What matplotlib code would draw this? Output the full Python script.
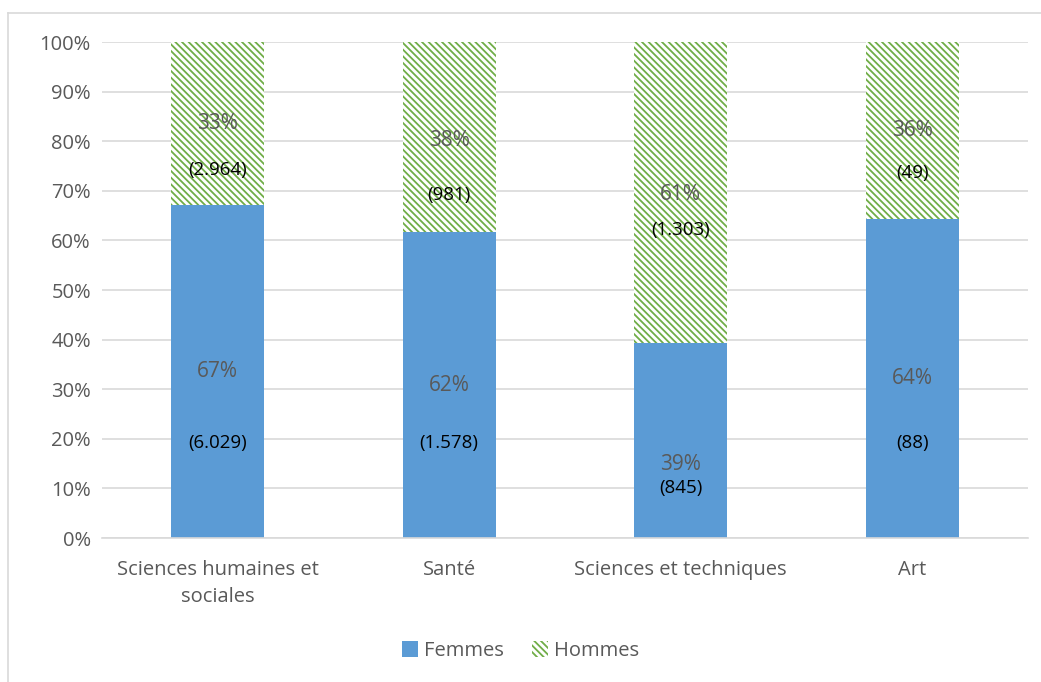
import numpy as np
import matplotlib.pyplot as plt
from matplotlib.lines import Line2D

plt.rcParams['font.family'] = ['Open Sans', 'DejaVu Sans']
plt.rcParams['hatch.linewidth'] = 1.3

categories = ['Sciences humaines et\nsociales', 'Santé', 'Sciences et techniques', 'Art']
femmes = [6029, 1578, 845, 88]
hommes = [2964, 981, 1303, 49]
# décalages verticaux (en points de %) des libellés d'effectif sous les pourcentages
off_f = [14.3, 11.6, 4.8, 12.9]
off_h = [9.3, 11.0, 7.0, 8.6]
pct_shift_f = [0, 0, -4.8, 0]
pct_shift_h = [0, -0.6, -0.5, 0]

femmes = np.array(femmes, dtype=float)
hommes = np.array(hommes, dtype=float)
total = femmes + hommes
pf = femmes / total * 100
ph = hommes / total * 100

def fmt(n):
    return '(' + f'{int(n):,}'.replace(',', '.') + ')'

fig = plt.figure(figsize=(10.41, 6.82), dpi=100)
ax = fig.add_axes([102 / 1041, 1 - 538 / 682, 926 / 1041, 496 / 682])

x = np.arange(len(categories))
w = 0.40
ax.bar(x, pf, w, color='#5B9BD5', label='Femmes', zorder=2)
ax.bar(x, ph, w, bottom=pf, color='white', edgecolor='#70AD47', hatch='\\\\\\\\\\',
       linewidth=0, label='Hommes', zorder=2)

for i in range(len(categories)):
    yc = pf[i] / 2 + pct_shift_f[i]
    ax.text(x[i], yc, f'{pf[i]:.0f}%', ha='center', va='center', fontsize=15, color='#595959', zorder=3)
    ax.text(x[i], yc - off_f[i], fmt(femmes[i]), ha='center', va='center', fontsize=13.5,
            color='black', zorder=3)
    yh = pf[i] + ph[i] / 2 + pct_shift_h[i]
    ax.text(x[i], yh, f'{ph[i]:.0f}%', ha='center', va='center', fontsize=15, color='#595959', zorder=3)
    ax.text(x[i], yh - off_h[i], fmt(hommes[i]), ha='center', va='center', fontsize=13.5,
            color='black', zorder=3)

ax.set_xlim(-0.5, len(categories) - 0.5)
ax.set_ylim(0, 100)
ax.set_yticks(range(0, 101, 10))
ax.set_yticklabels([f'{v}%' for v in range(0, 101, 10)])
ax.set_xticks(x)
ax.set_xticklabels(categories, linespacing=1.45)
ax.tick_params(axis='both', length=0, labelsize=14.5, colors='#595959')
ax.tick_params(axis='x', pad=16)
ax.tick_params(axis='y', pad=8)
ax.grid(axis='y', color='#D9D9D9', linewidth=1.2, zorder=0)
for s in ['top', 'right', 'left']:
    ax.spines[s].set_visible(False)
ax.spines['bottom'].set_color('#D9D9D9')
ax.spines['bottom'].set_linewidth(1.2)

handles, labels = ax.get_legend_handles_labels()
fig.legend(handles, labels, loc='center', bbox_to_anchor=(0.5, 1 - 651 / 682), ncol=2, frameon=False,
           fontsize=14.5, labelcolor='#595959', handlelength=0.8, handleheight=0.8, columnspacing=1.4,
           handletextpad=0.3)

# cadre du graphique
fig.add_artist(Line2D([8 / 1041, 8 / 1041], [0, 1 - 13 / 682], transform=fig.transFigure,
                      color='#D9D9D9', linewidth=1.2))
fig.add_artist(Line2D([8 / 1041, 1], [1 - 13 / 682, 1 - 13 / 682], transform=fig.transFigure,
                      color='#D9D9D9', linewidth=1.2))

fig.savefig('out.png', dpi=100)
